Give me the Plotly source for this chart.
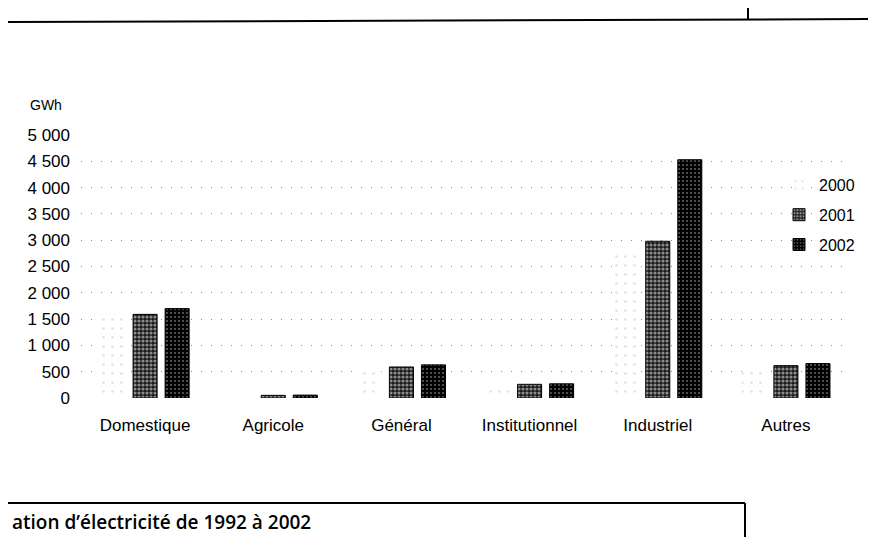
import plotly.graph_objects as go

categories = ["Domestique", "Agricole", "Général", "Institutionnel", "Industriel", "Autres"]
values_2000 = [1560, 40, 570, 230, 2800, 560]
values_2001 = [1590, 50, 590, 260, 2980, 615]
values_2002 = [1700, 55, 630, 270, 4530, 655]
tick_values = [0, 500, 1000, 1500, 2000, 2500, 3000, 3500, 4000, 4500, 5000]
tick_labels = ["0", "500", "1 000", "1 500", "2 000", "2 500", "3 000", "3 500", "4 000", "4 500", "5 000"]

W, H = 876, 537
L, R = 73, 842
T, B = 127, 390

def px(x):
    return (x - L) / (R - L)

def py(y):
    return (B - y) / (B - T)

FONT = "Liberation Sans, Arial, sans-serif"

fig = go.Figure()
fig.add_trace(go.Bar(
    name="2000", x=categories, y=values_2000, legendgroup="a",
    marker=dict(color="white", line=dict(width=0),
                pattern=dict(shape=".", fgcolor="#c4c4c4", bgcolor="white", size=9, solidity=0.07)),
))
fig.add_trace(go.Bar(
    name="2001", x=categories, y=values_2001, legendgroup="b",
    marker=dict(color="#1a1a1a", line=dict(color="black", width=1),
                pattern=dict(shape=".", fgcolor="white", bgcolor="#1a1a1a", size=4, solidity=0.5)),
))
fig.add_trace(go.Bar(
    name="2002", x=categories, y=values_2002, legendgroup="c",
    marker=dict(color="black", line=dict(color="black", width=1),
                pattern=dict(shape=".", fgcolor="#bdbdbd", bgcolor="black", size=4, solidity=0.22)),
))

shapes = [
    dict(type="line", xref="paper", yref="paper", x0=px(0), x1=px(876), y0=py(14), y1=py(11),
         line=dict(color="black", width=2)),
    dict(type="line", xref="paper", yref="paper", x0=px(740), x1=px(740), y0=py(0), y1=py(12),
         line=dict(color="black", width=2)),
    dict(type="line", xref="paper", yref="paper", x0=px(0), x1=px(737), y0=py(495), y1=py(495),
         line=dict(color="black", width=2)),
    dict(type="line", xref="paper", yref="paper", x0=px(737), x1=px(737), y0=py(495), y1=py(537),
         line=dict(color="black", width=2)),
]

annotations = [
    dict(text="GWh", xref="paper", yref="paper", x=px(20), y=py(97), xanchor="left", yanchor="middle",
         showarrow=False, font=dict(family=FONT, size=14, color="black")),
    dict(text="ation d’électricité de 1992 à 2002", xref="paper", yref="paper", x=px(2), y=py(514),
         xanchor="left", yanchor="middle", showarrow=False,
         font=dict(family="Open Sans, sans-serif", size=19, color="black", weight=600)),
]

fig.update_layout(
    width=W, height=H,
    margin=dict(l=L, r=W - R, t=T, b=H - B, pad=0),
    paper_bgcolor="white", plot_bgcolor="white",
    barmode="group", bargap=0.25, bargroupgap=0.25,
    font=dict(family=FONT, size=16, color="black"),
    showlegend=True,
    legend=dict(x=px(771), y=py(160), xanchor="left", yanchor="top",
                bgcolor="rgba(0,0,0,0)", font=dict(family=FONT, size=16),
                tracegroupgap=6, itemwidth=30),
    shapes=shapes,
    annotations=annotations,
    xaxis=dict(showgrid=False, showline=False, zeroline=False, ticks="",
               tickfont=dict(family=FONT, size=17), ticklabelstandoff=15),
    yaxis=dict(range=[0, 5000], tickvals=tick_values, ticktext=tick_labels,
               showgrid=True, gridcolor="#8a8a8a", gridwidth=1, griddash="1px,9px",
               showline=False, zeroline=False, ticks="",
               tickfont=dict(family=FONT, size=17), ticklabelstandoff=10),
)

fig.write_html("out.html")
